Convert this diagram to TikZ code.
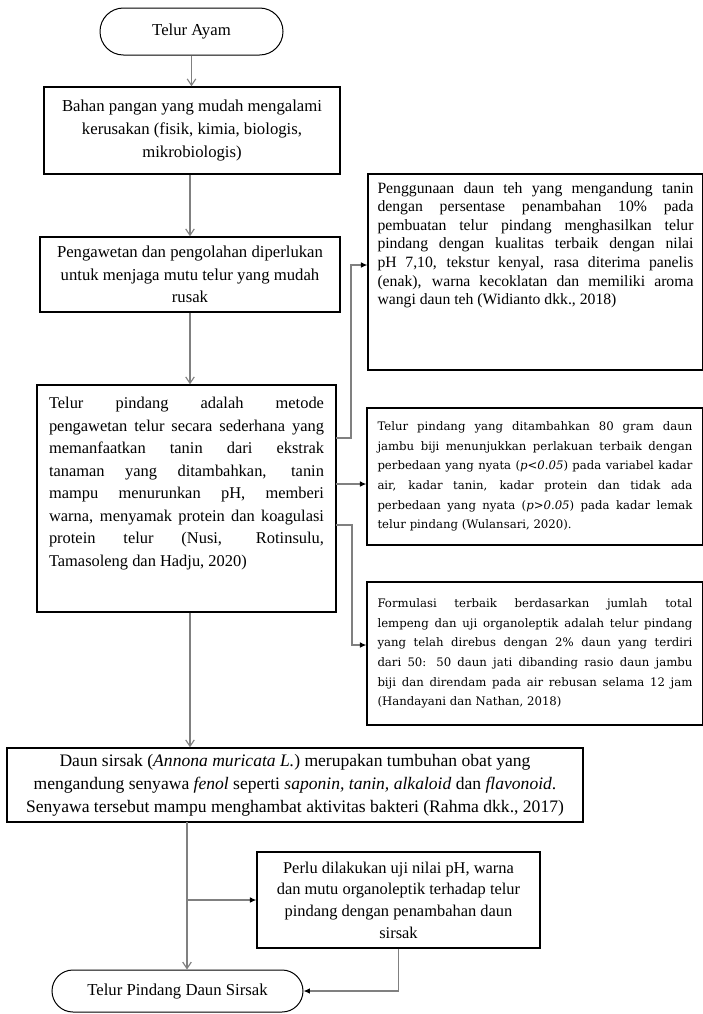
\documentclass[tikz,border=0pt]{standalone}
\usepackage{fontspec}
\setmainfont{Liberation Serif}
\newfontfamily\wideserif{DejaVu Serif}
\usetikzlibrary{arrows.meta}
\definecolor{linegray}{gray}{0.5}
\newcommand{\jline}[1]{\makebox[\linewidth][s]{#1}\par}

\begin{document}
\begin{tikzpicture}
  [x=0.7pt,y=-0.7pt,
   terminal/.style={rectangle,rounded corners=#1,draw=black,line width=0.7pt,
                    inner sep=0,align=center,font=\fontsize{11.7}{15.8}\selectfont},
   block/.style={rectangle,draw=black,line width=0.9pt,inner sep=0,align=center,
                 font=\fontsize{11.7}{15.8}\selectfont},
   flow/.style={draw=linegray,line width=0.8pt,-{Straight Barb[length=4.5pt,width=6pt]}},
   branch/.style={draw=linegray,line width=0.8pt,-{Latex[length=4.5pt,width=4pt,color=black]}}]
  \useasboundingbox (0,0) rectangle (703,1014);
  \node[terminal=16.4pt,minimum width=128.1pt,minimum height=32.9pt] (ayam) at (191.5,31.5)
    {Telur Ayam};
  \node[block,minimum width=207.2pt,minimum height=60.9pt] (rusak) at (192,130.5)
    {Bahan pangan yang mudah mengalami\\kerusakan (fisik, kimia, biologis,\\mikrobiologis)};
  \node[block,minimum width=210pt,minimum height=52.5pt] (awet) at (190,274.5)
    {Pengawetan dan pengolahan diperlukan\\untuk menjaga mutu telur yang mudah\\rusak};
  \node[block,minimum width=209.3pt,minimum height=158.9pt] (pindang) at (186.5,498.5)
    {\parbox[c][158.9pt][t]{192.5pt}{\fontsize{11.5}{15.8}\selectfont\vspace*{8.5pt}%
      \jline{Telur pindang adalah metode}%
      \jline{pengawetan telur secara sederhana yang}%
      \jline{memanfaatkan tanin dari ekstrak}%
      \jline{tanaman yang ditambahkan, tanin}%
      \jline{mampu menurunkan pH, memberi}%
      \jline{warna, menyamak protein dan koagulasi}%
      \jline{protein telur (Nusi, Rotinsulu,}%
      Tamasoleng dan Hadju, 2020)}};
  \node[block,minimum width=234.5pt,minimum height=137.2pt] (tanin) at (535.5,272)
    {\parbox[c][137.2pt][t]{221.2pt}{\fontsize{11}{13}\selectfont\vspace*{5.8pt}%
      \jline{Penggunaan daun teh yang mengandung tanin}%
      \jline{dengan persentase penambahan 10\% pada}%
      \jline{pembuatan telur pindang menghasilkan telur}%
      \jline{pindang dengan kualitas terbaik dengan nilai}%
      \jline{pH 7,10, tekstur kenyal, rasa diterima panelis}%
      \jline{(enak), warna kecoklatan dan memiliki aroma}%
      wangi daun teh (Widianto dkk., 2018)}};
  \node[block,minimum width=235.2pt,minimum height=95.9pt] (jambu) at (535,476.5)
    {\parbox{220.5pt}{\wideserif\fontsize{8.2}{13.7}\selectfont
      \jline{Telur pindang yang ditambahkan 80 gram daun}%
      \jline{jambu biji menunjukkan perlakuan terbaik dengan}%
      \jline{perbedaan yang nyata (\textit{p<0.05}) pada variabel kadar}%
      \jline{air, kadar tanin, kadar protein dan tidak ada}%
      \jline{perbedaan yang nyata (\textit{p>0.05}) pada kadar lemak}%
      telur pindang (Wulansari, 2020).}};
  \node[block,minimum width=235.2pt,minimum height=100.1pt] (jati) at (535,653.5)
    {\parbox{220.5pt}{\wideserif\fontsize{8.2}{13.7}\selectfont
      \jline{Formulasi terbaik berdasarkan jumlah total}%
      \jline{lempeng dan uji organoleptik adalah telur pindang}%
      \jline{yang telah direbus dengan 2\% daun yang terdiri}%
      \jline{dari 50: 50 daun jati dibanding rasio daun jambu}%
      \jline{biji dan direndam pada air rebusan selama 12 jam}%
      (Handayani dan Nathan, 2018)}};
  \node[block,minimum width=403.2pt,minimum height=51.8pt,
        font=\fontsize{12.3}{16}\selectfont] (sirsak) at (295,785)
    {Daun sirsak (\textit{Annona muricata L.}) merupakan tumbuhan obat yang\\
     mengandung senyawa \textit{fenol} seperti \textit{saponin, tanin, alkaloid} dan \textit{flavonoid}.\\
     Senyawa tersebut mampu menghambat aktivitas bakteri (Rahma dkk., 2017)};
  \node[block,minimum width=198.1pt,minimum height=67.2pt,
        font=\fontsize{11.5}{15.2}\selectfont] (uji) at (398.5,900)
    {Perlu dilakukan uji nilai pH, warna\\dan mutu organoleptik terhadap telur\\
     pindang dengan penambahan daun\\sirsak};
  \node[terminal=14.7pt,minimum width=175.7pt,minimum height=29.4pt] (akhir) at (177.5,991)
    {Telur Pindang Daun Sirsak};
  \coordinate (c1) at (336,438);
  \coordinate (k1) at (351,265);
  \coordinate (c2) at (336,484);
  \coordinate (c3) at (336,525);
  \coordinate (k3) at (352,645);
  \coordinate (m1) at (187,822);
  \draw[flow] (ayam.south) -- (ayam.south |- rusak.north);
  \draw[flow] (awet.north |- rusak.south) -- (awet.north);
  \draw[flow] (awet.south) -- (awet.south |- pindang.north);
  \draw[flow] (awet.south |- pindang.south) -- (awet.south |- sirsak.north);
  \draw[branch] (c1) -| (k1) -- (k1 -| tanin.west);
  \draw[branch] (c2) -- (c2 -| jambu.west);
  \draw[branch] (c3) -| (k3) -- (k3 -| jati.west);
  \draw[flow] (m1) -- (m1 |- akhir.north);
  \draw[branch] (m1 |- uji.west) -- (uji.west);
  \draw[branch] (uji.south) |- (akhir.east);
\end{tikzpicture}
\end{document}
